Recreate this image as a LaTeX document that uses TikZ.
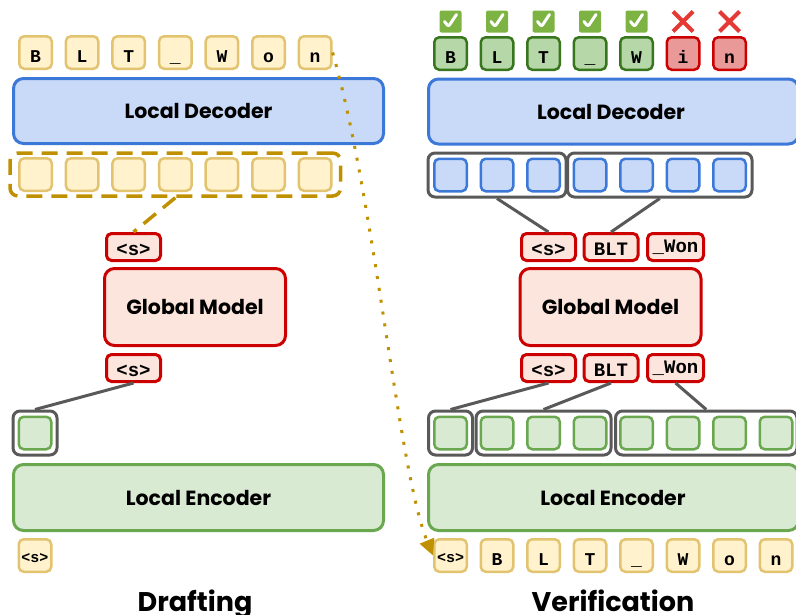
\documentclass[tikz,border=0pt]{standalone}
\usepackage{fontspec}
\setmainfont{Poppins}
\setmonofont{Liberation Mono}
\usetikzlibrary{arrows.meta,fit,calc}

\definecolor{tokB}{HTML}{E2C370}
\definecolor{tokF}{HTML}{FFF2CC}
\definecolor{gold}{HTML}{BF9000}
\definecolor{redB}{HTML}{CC0000}
\definecolor{redF}{HTML}{FCE5DC}
\definecolor{bluB}{HTML}{3C78D8}
\definecolor{bluF}{HTML}{C9DAF8}
\definecolor{grnB}{HTML}{6AA84F}
\definecolor{grnF}{HTML}{D9EAD3}
\definecolor{grnDB}{HTML}{38761D}
\definecolor{grnDF}{HTML}{B6D7A8}
\definecolor{errF}{HTML}{EA9999}
\definecolor{grpC}{HTML}{595959}
\definecolor{okG}{HTML}{7CB342}
\definecolor{xR}{HTML}{E53935}

\newcommand{\tokfont}{\ttfamily\bfseries\fontsize{18}{18}\selectfont}
\newcommand{\tagfont}{\ttfamily\bfseries\fontsize{19}{19}\selectfont}
\newcommand{\bigfont}{\bfseries\fontsize{20.5}{24}\selectfont}
\newcommand{\titlefont}{\bfseries\fontsize{27}{30}\selectfont}

\begin{document}
\begin{tikzpicture}[x=1pt,y=-1pt,
  cell/.style={rounded corners=5pt, line width=2.5pt, minimum width=32.5pt,
    minimum height=32.5pt, inner sep=0pt, font=\tokfont,
    text height=19pt, text depth=0pt},
  tokY/.style={cell, draw=tokB, fill=tokF},
  tokG/.style={cell, draw=grnDB, fill=grnDF},
  tokR/.style={cell, draw=redB, fill=errF},
  cellB/.style={cell, draw=bluB, fill=bluF},
  cellG/.style={cell, draw=grnB, fill=grnF},
  big/.style={rounded corners=10pt, line width=3pt, inner sep=0pt, font=\bigfont},
  decoder/.style={big, draw=bluB, fill=bluF, minimum width=370pt, minimum height=65pt},
  encoder/.style={big, draw=grnB, fill=grnF, minimum width=370pt, minimum height=66pt},
  globalm/.style={big, draw=redB, fill=redF, minimum width=181pt, minimum height=77pt},
  tagbox/.style={draw=redB, fill=redF, line width=3pt, rounded corners=5pt,
    minimum height=27pt, minimum width=54pt, inner sep=0pt, font=\tagfont,
    text height=16pt, text depth=0pt},
  grpbox/.style={draw=grpC, line width=3pt, rounded corners=7pt, inner sep=4.5pt},
  link/.style={draw=grpC, line width=3pt},
  goldDash/.style={draw=gold, line width=3.5pt, dash pattern=on 16pt off 9pt},
  okmark/.style={fill=okG, rounded corners=2pt, minimum size=22pt, inner sep=0pt,
    path picture={\draw[white, line width=3pt, line cap=round, line join=round]
      ([shift={(-6,0)}]path picture bounding box.center) --
      ([shift={(-2,5)}]path picture bounding box.center) --
      ([shift={(6,-7)}]path picture bounding box.center);}},
  xmark/.style={minimum size=24pt, inner sep=0pt,
    path picture={\draw[xR, line width=4.2pt]
      ([shift={(-10,-10)}]path picture bounding box.center) --
      ([shift={(10,10)}]path picture bounding box.center)
      ([shift={(10,-10)}]path picture bounding box.center) --
      ([shift={(-10,10)}]path picture bounding box.center);}},
  title/.style={font=\titlefont, anchor=base}
]
\useasboundingbox (0,0) rectangle (796,614);
\clip (0,0) rectangle (796,614);

% ---------------- Drafting (left) ----------------
\foreach \t [count=\i] in {B,L,T,\_,W,o,n} {
  \node[tokY] (tL\i) at ({35.5+46.6*(\i-1)},52.5) {\t};
  \node[tokY] (dL\i) at ({35.5+46.6*(\i-1)},174.5) {};
}
\node[decoder] (decL) at (198.5,111) {Local Decoder};
\node[draw=gold, line width=3.5pt, dash pattern=on 16pt off 9pt, rounded corners=8pt,
  inner xsep=8pt, inner ysep=4pt, fit=(dL1)(dL7)] (dgrp) {};

\node[tagbox] (sTopL) at (133.5,247) {<s>};
\node[globalm] (gmL) at (195,307) {Global Model};
\node[tagbox] (sBotL) at (133.5,368) {<s>};

\node[cellG] (eL1) at (35,433) {};
\node[grpbox, fit=(eL1)] (egL) {};

\node[encoder] (encL) at (198.5,497.5) {Local Encoder};
\node[tokY, font=\ttfamily\bfseries\fontsize{15}{15}\selectfont, text height=14pt]
  (inL) at (35,555.5) {<s>};

\draw[goldDash] (dL4 |- dgrp.south) -- (sTopL.north);
\draw[link] (sBotL.south) -- (egL.north);

\node[title] (tDraft) at (195,611) {Drafting};

% ---------------- Verification (right) ----------------
\foreach \t [count=\i] in {B,L,T,\_,W} {
  \node[tokG] (tR\i) at ({450.5+46.5*(\i-1)},53.5) {\t};
  \node[okmark] (ok\i) at ({450.5+46.5*(\i-1)},21.5) {};
}
\node[tokR] (tR6) at (683,53.5) {i};
\node[tokR] (tR7) at (729.5,53.5) {n};
\node[xmark] (no6) at (683,21.5) {};
\node[xmark] (no7) at (729.5,21.5) {};

\node[decoder] (decR) at (613.5,111.5) {};
\node[font=\bigfont] (decRlab) at (611,111.5) {Local Decoder};

\foreach \i in {1,...,7} {
  \node[cellB] (bR\i) at ({450.5+46.5*(\i-1)},175) {};
}
\node[grpbox, inner xsep=5pt, fit=(bR1)(bR3)] (bg1) {};
\node[grpbox, inner xsep=5pt, fit=(bR4)(bR7)] (bg2) {};

\node[tagbox] (sTopR) at (548.5,247) {<s>};
\node[tagbox] (bltTopR) at (611,247) {BLT};
\node[tagbox, minimum width=56pt, text height=11pt] (wonTopR) at (675.5,247) {\_Won};
\node[globalm] (gmR) at (610.5,307) {Global Model};
\node[tagbox] (sBotR) at (548.5,368) {<s>};
\node[tagbox] (bltBotR) at (611,368) {BLT};
\node[tagbox, minimum width=56pt, text height=11pt] (wonBotR) at (675.5,368) {\_Won};

\foreach \i in {1,...,8} {
  \node[cellG] (eR\i) at ({450.5+46.5*(\i-1)},433) {};
}
\node[grpbox, fit=(eR1)] (eg1) {};
\node[grpbox, inner xsep=3.5pt, fit=(eR2)(eR4)] (eg2) {};
\node[grpbox, inner xsep=3.5pt, fit=(eR5)(eR8)] (eg3) {};

\node[encoder] (encR) at (613.5,497.5) {};
\node[font=\bigfont] (encRlab) at (613,497.5) {Local Encoder};

\node[tokY, font=\ttfamily\bfseries\fontsize{15}{15}\selectfont, text height=14pt]
  (inR1) at (450.5,555.5) {<s>};
\foreach \t [count=\i from 2] in {B,L,T,\_,W,o,n} {
  \node[tokY] (inR\i) at ({450.5+46.5*(\i-1)},555.5) {\t};
}

\draw[link] (bg1.south) -- (sTopR.north);
\draw[link] (bg2.south) -- (bltTopR.north);
\draw[link] (sBotR.south) -- (eg1.north);
\draw[link] (bltBotR.south) -- (eg2.north);
\draw[link] (wonBotR.south) -- (eg3.north);

\node[title] (tVerif) at (613,611) {Verification};

% drafted bytes are fed back as input for verification
\draw[gold, line width=3pt, dash pattern=on 3pt off 9pt,
  -{Triangle[length=16pt,width=15pt,fill=gold]}]
  (tL7.east) .. controls (375,200) and (398,470) .. (inR1.west);
\end{tikzpicture}
\end{document}
